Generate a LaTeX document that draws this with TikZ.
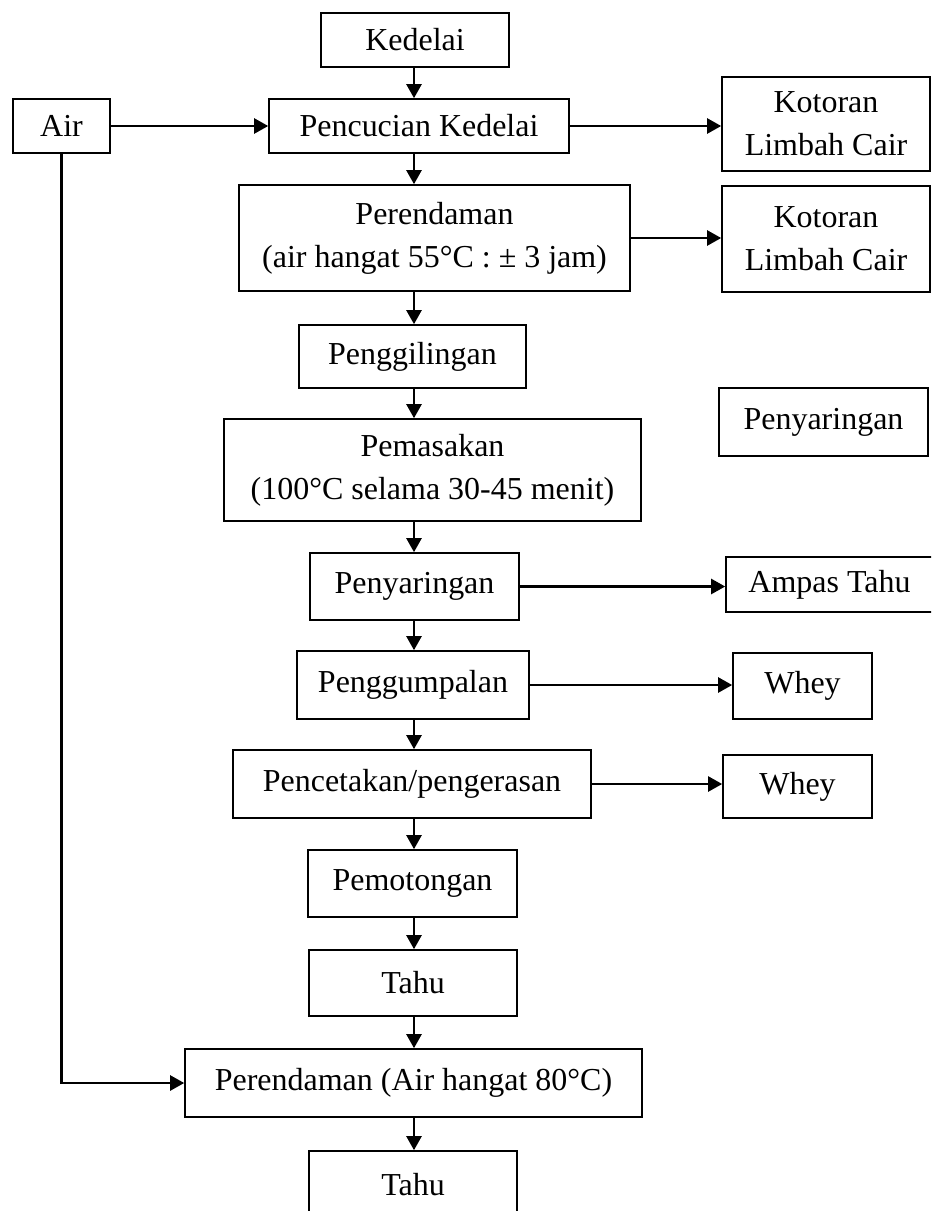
\documentclass[tikz,border=0pt]{standalone}
\usepackage{fontspec}
\setmainfont{Liberation Serif}
\usetikzlibrary{arrows.meta}

\begin{document}
\begin{tikzpicture}[x=0.02cm,y=-0.02cm,
  every node/.style={font=\fontsize{18.2}{24.5}\selectfont},
  box/.style={draw,line width=0.95pt,inner sep=0pt,align=center},
  flow/.style={->,line width=1.35pt},
  >={Triangle[length=2.8mm,width=3mm]}]
  \useasboundingbox (0,0) rectangle (931,1211);
  \clip (0,0) rectangle (931,1211);
  \coordinate (axis) at (414,0);

  \node[box,minimum width=3.76cm,minimum height=1.08cm] (kedelai) at (415,40) {Kedelai};
  \node[box,minimum width=1.94cm,minimum height=1.08cm] (air) at (61.5,126) {Air};
  \node[box,minimum width=6cm,minimum height=1.08cm] (cuci) at (419,126) {Pencucian Kedelai};
  \node[box,minimum width=4.16cm,minimum height=1.88cm] (kotoranA) at (826,124) {Kotoran\\Limbah Cair};

  \node[box,minimum width=7.82cm,minimum height=2.12cm] (rendamA) at (434.5,238) {Perendaman\\(air hangat 55°C : ± 3 jam)};
  \node[box,minimum width=4.16cm,minimum height=2.12cm] (kotoranB) at (826,239) {Kotoran\\Limbah Cair};

  \node[box,minimum width=4.54cm,minimum height=1.26cm] (giling) at (412.5,356.5) {Penggilingan};
  \node[box,minimum width=4.18cm,minimum height=1.36cm] (saringB) at (823.5,422) {Penyaringan};
  \node[box,minimum width=8.34cm,minimum height=2.04cm] (masak) at (432.5,470) {Pemasakan\\(100°C selama 30-45 menit)};

  \node[box,minimum width=4.18cm,minimum height=1.34cm] (saring) at (414.5,586.5) {Penyaringan};
  \node[box,minimum width=4.14cm,minimum height=1.1cm] (ampas) at (829.5,584.5) {Ampas Tahu};

  \node[box,minimum width=4.64cm,minimum height=1.36cm] (gumpal) at (413,685) {Penggumpalan};
  \node[box,minimum width=2.78cm,minimum height=1.32cm] (wheyA) at (802.5,686) {Whey};

  \node[box,minimum width=7.16cm,minimum height=1.36cm] (cetak) at (412,784) {Pencetakan/pengerasan};
  \node[box,minimum width=2.98cm,minimum height=1.26cm] (wheyB) at (797.5,786.5) {Whey};

  \node[box,minimum width=4.18cm,minimum height=1.34cm] (potong) at (412.5,883.5) {Pemotongan};
  \node[box,minimum width=4.16cm,minimum height=1.32cm] (tahuA) at (413,983) {Tahu};
  \node[box,minimum width=9.14cm,minimum height=1.36cm] (rendamB) at (413.5,1083) {Perendaman (Air hangat 80°C)};
  \node[box,minimum width=4.16cm,minimum height=1.36cm] (tahuB) at (413,1185) {Tahu};

  \draw[flow] (kedelai.south -| axis) -- (cuci.north -| axis);
  \draw[flow] (cuci.south -| axis) -- (rendamA.north -| axis);
  \draw[flow] (rendamA.south -| axis) -- (giling.north -| axis);
  \draw[flow] (giling.south -| axis) -- (masak.north -| axis);
  \draw[flow] (masak.south -| axis) -- (saring.north -| axis);
  \draw[flow] (saring.south -| axis) -- (gumpal.north -| axis);
  \draw[flow] (gumpal.south -| axis) -- (cetak.north -| axis);
  \draw[flow] (cetak.south -| axis) -- (potong.north -| axis);
  \draw[flow] (potong.south -| axis) -- (tahuA.north -| axis);
  \draw[flow] (tahuA.south -| axis) -- (rendamB.north -| axis);
  \draw[flow] (rendamB.south -| axis) -- (tahuB.north -| axis);

  \draw[flow] (air) -- (cuci);
  \draw[flow] (cuci.east) -- (cuci.east -| kotoranA.west);
  \draw[flow] (rendamA.east) -- (rendamA.east -| kotoranB.west);
  \draw[flow] (saring.east) -- (saring.east -| ampas.west);
  \draw[flow] (gumpal.east) -- (gumpal.east -| wheyA.west);
  \draw[flow] (cetak.east) -- (cetak.east -| wheyB.west);
  \draw[flow] (air.south) |- (rendamB.west);

\end{tikzpicture}
\end{document}
